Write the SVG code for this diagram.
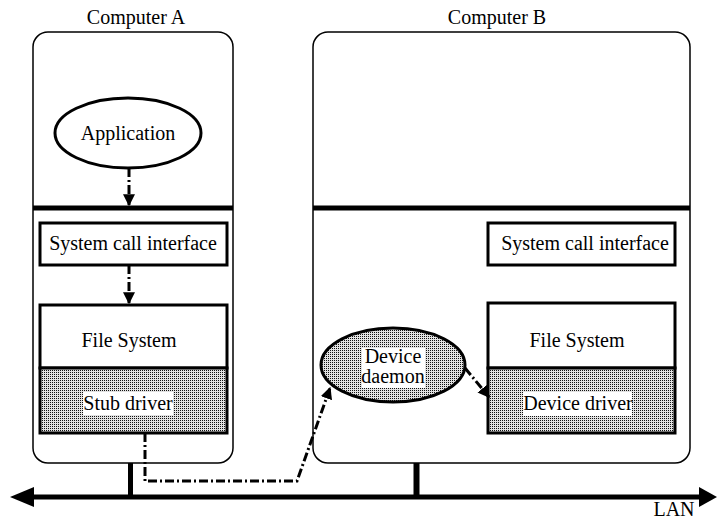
<svg xmlns="http://www.w3.org/2000/svg" width="717" height="521" viewBox="0 0 717 521">
<style>
text{font-family:"Liberation Serif","Times New Roman",serif;font-size:20px;fill:#000;text-anchor:middle}
.box{fill:#fff;stroke:#000;stroke-width:3}
.comp{fill:#fff;stroke:#000;stroke-width:1.5}
.gray{fill:url(#dots);stroke:#000;stroke-width:3}
.bar{stroke:#000;stroke-width:5}
.conn{fill:none;stroke:#000;stroke-width:3;stroke-dasharray:9 3 2 3}
.lbl{fill:#fff}
</style>
<defs>
<pattern id="dots" width="2" height="2" patternUnits="userSpaceOnUse">
<rect width="2" height="2" fill="#e2e2e2"/>
<rect width="1" height="1" fill="#111"/>
</pattern>
<marker id="ah" viewBox="0 0 10 10" refX="9" refY="5" markerWidth="4" markerHeight="4" orient="auto" markerUnits="strokeWidth">
<path d="M0,0 L10,5 L0,10 Z" fill="#000"/>
</marker>
</defs>

<g id="computerA">
<rect class="comp" x="33" y="32" width="200" height="431" rx="15"/>
<line class="bar" x1="33" y1="208" x2="233" y2="208"/>
<text x="136" y="24">Computer A</text>
</g>
<g id="computerB">
<rect class="comp" x="313" y="32" width="377" height="431" rx="15"/>
<line class="bar" x1="313" y1="208" x2="690" y2="208"/>
<text x="497" y="24">Computer B</text>
</g>

<g id="application">
<ellipse cx="128" cy="133" rx="73" ry="35" fill="#fff" stroke="#000" stroke-width="3"/>
<text x="128" y="140">Application</text>
</g>
<g id="syscallA">
<rect class="box" x="40" y="223" width="187" height="42"/>
<text x="133" y="250">System call interface</text>
</g>
<g id="filesystemA">
<rect class="box" x="40" y="305" width="187" height="63"/>
<text x="129" y="347">File System</text>
</g>
<g id="stubdriver">
<rect class="gray" x="40" y="368" width="187" height="65"/>
<rect class="lbl" x="83" y="392" width="90" height="23"/>
<text x="128" y="410">Stub driver</text>
</g>

<g id="syscallB">
<rect class="box" x="488" y="223" width="187" height="42"/>
<text x="585" y="250">System call interface</text>
</g>
<g id="filesystemB">
<rect class="box" x="488" y="303" width="187" height="65"/>
<text x="577" y="347">File System</text>
</g>
<g id="devicedriver">
<rect class="gray" x="488" y="368" width="187" height="65"/>
<rect class="lbl" x="523" y="392" width="109" height="24"/>
<text x="578" y="410">Device driver</text>
</g>
<g id="devicedaemon">
<ellipse cx="393" cy="365" rx="72" ry="37" fill="url(#dots)" stroke="#000" stroke-width="3"/>
<rect class="lbl" x="362" y="348" width="63" height="40"/>
<text x="393" y="363">Device</text>
<text x="393" y="383">daemon</text>
</g>

<g id="lan">
<line class="bar" x1="30" y1="497" x2="702" y2="497"/>
<path d="M10,497 L34,487 L34,507 Z" fill="#000"/>
<path d="M717,497 L699,487 L699,507 Z" fill="#000"/>
<line x1="130.5" y1="463" x2="130.5" y2="496" stroke="#000" stroke-width="5"/>
<line x1="416.5" y1="463" x2="416.5" y2="496" stroke="#000" stroke-width="6"/>
<text x="674" y="516">LAN</text>
</g>

<g id="connectors">
<path class="conn" d="M129,168 V205" marker-end="url(#ah)"/>
<path class="conn" d="M129,265 V303" marker-end="url(#ah)"/>
<path class="conn" d="M145,433 V481 H297 L330,388" marker-end="url(#ah)"/>
<path class="conn" d="M465,368 L489,397" marker-end="url(#ah)"/>
</g>
</svg>
